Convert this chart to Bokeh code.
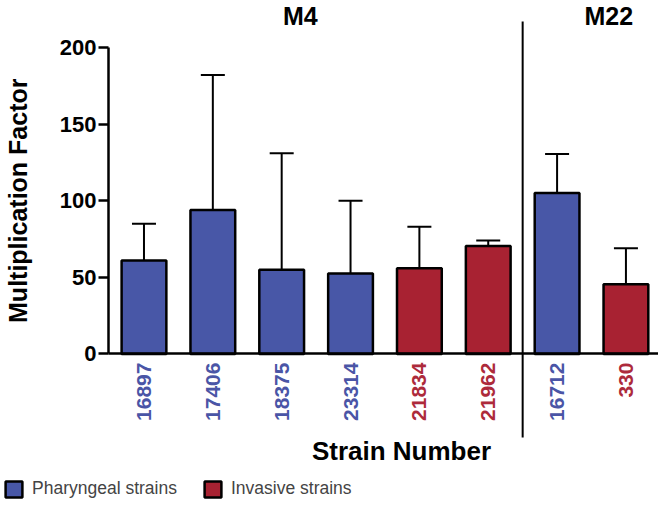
import math
from bokeh.plotting import figure
from bokeh.models import (ColumnDataSource, Range1d, FixedTicker, Whisker, TeeHead,
                          Legend, LegendItem, LinearAxis)
from bokeh.core.properties import value
from bokeh.embed import file_html
from bokeh.resources import INLINE

# ---------------- data ----------------
strains = ["16897", "17406", "18375", "23314", "21834", "21962", "16712", "330"]
strain_type = ["Pharyngeal", "Pharyngeal", "Pharyngeal", "Pharyngeal",
               "Invasive", "Invasive", "Pharyngeal", "Invasive"]
serotype = ["M4", "M4", "M4", "M4", "M4", "M4", "M22", "M22"]
mult_factor = [61, 94, 55, 52.5, 56, 70.5, 105, 45.5]
upper_err = [24, 88, 76, 47.5, 27, 3.5, 25.5, 23.5]
y_ticks = [0, 50, 100, 150, 200]
group_names = ["M4", "M22"]
legend_labels = {"Pharyngeal": "Pharyngeal strains", "Invasive": "Invasive strains"}

# ---------------- style ----------------
BLUE = "#4857a7"
RED = "#a82232"
LBLUE = "#4a55a6"
LRED = "#ad2a3b"
FONT = "Liberation Sans"
colors = {"Pharyngeal": BLUE, "Invasive": RED}
lab_colors = {"Pharyngeal": LBLUE, "Invasive": LRED}

X_AXIS_START = -0.516
X_END = 7.473
xs = list(range(len(strains)))
src = ColumnDataSource(dict(
    x=xs,
    top=mult_factor,
    upper=[m + e for m, e in zip(mult_factor, upper_err)],
    fill=[colors[t] for t in strain_type],
    name=strains,
    lab_color=[lab_colors[t] for t in strain_type],
))

W = 658
H = 499

p = figure(width=W, height=H, output_backend="svg", toolbar_location=None,
           x_range=Range1d(-2.084, X_END), y_range=Range1d(-95.0, 230.7),
           x_axis_location=None, y_axis_location=None,
           min_border_left=0, min_border_right=0,
           min_border_top=0, min_border_bottom=0)
p.outline_line_color = None
p.xgrid.visible = False
p.ygrid.visible = False

# y axis, fixed at the left end of the category span
ax = LinearAxis(fixed_location=X_AXIS_START)
ax.bounds = (0, 200)
ax.ticker = FixedTicker(ticks=y_ticks)
ax.minor_tick_line_color = None
ax.major_tick_in = 0
ax.major_tick_out = 10
ax.major_tick_line_width = 2.5
ax.axis_line_width = 2.5
ax.major_label_standoff = 2
ax.major_label_text_font = FONT
ax.major_label_text_font_style = "bold"
ax.major_label_text_font_size = "22px"
ax.major_label_text_color = "black"
p.add_layout(ax, "left")

# x axis line at y = 0
xa = LinearAxis(fixed_location=0)
xa.bounds = (X_AXIS_START, X_END)
xa.ticker = FixedTicker(ticks=[])
xa.major_label_text_font_size = "0px"
xa.axis_line_width = 2.5
xa.major_tick_line_color = None
xa.minor_tick_line_color = None
p.add_layout(xa, "below")

# bars
bars = p.vbar(x="x", top="top", bottom=0, width=0.65, fill_color="fill",
              line_color="black", line_width=2.5, source=src)

# error bars (upper only)
wh = Whisker(base="x", lower="top", upper="upper", source=src, line_width=2,
             line_color="black", lower_head=None,
             upper_head=TeeHead(size=24, line_width=2, line_color="black"))
p.add_layout(wh)

# divider between serotype groups
split = serotype.index("M22") - 0.5
p.segment(x0=[split], y0=[-54.5], x1=[split], y1=[217], line_color="black", line_width=2)

# strain labels
p.text(x="x", y=-5.6, text="name", angle=math.pi / 2, text_align="right",
       text_baseline="middle", text_color="lab_color", text_font=value(FONT),
       text_font_style="bold", text_font_size="21px", source=src)

# group titles
p.text(x=[2.27, 6.75], y=[220.5, 220.5], text=group_names, text_align="center",
       text_baseline="middle", text_color="black", text_font=value(FONT),
       text_font_style="bold", text_font_size="25px")

# axis titles
p.text(x=[3.74], y=[-63.5], text=["Strain Number"], text_align="center",
       text_baseline="middle", text_color="black", text_font=value(FONT),
       text_font_style="bold", text_font_size="26px")
p.text(x=[-1.83], y=[100], text=["Multiplication Factor"], angle=math.pi / 2,
       text_align="center", text_baseline="middle", text_color="black",
       text_font=value(FONT), text_font_style="bold", text_font_size="25px")

# legend
first_p = strain_type.index("Pharyngeal")
first_i = strain_type.index("Invasive")
leg = Legend(items=[LegendItem(label=legend_labels["Pharyngeal"], renderers=[bars], index=first_p),
                    LegendItem(label=legend_labels["Invasive"], renderers=[bars], index=first_i)],
             orientation="horizontal", location=(3, 0),
             glyph_width=21, glyph_height=20, label_standoff=8, spacing=25,
             padding=0, margin=0, border_line_color=None, background_fill_alpha=0,
             label_text_font=FONT, label_text_font_size="17.5px",
             label_height=20)
p.add_layout(leg)

open("out.html", "w").write(file_html(p, INLINE))
